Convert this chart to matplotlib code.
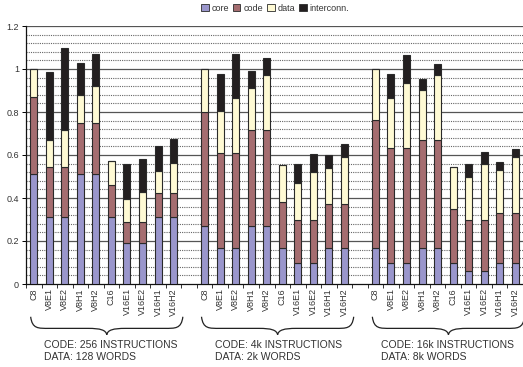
import matplotlib
matplotlib.use("Agg")
import matplotlib.pyplot as plt
from matplotlib.patches import Patch, PathPatch
from matplotlib.path import Path
from matplotlib.transforms import blended_transform_factory
import numpy as np

plt.rcParams['font.family'] = ['Liberation Sans', 'DejaVu Sans']

configs = ["C8", "V8E1", "V8E2", "V8H1", "V8H2", "C16", "V16E1", "V16E2", "V16H1", "V16H2"]
series = ["core", "code", "data", "interconn."]

# Normalised energy per component, one list per memory-size group
core_256 = [0.51, 0.31, 0.31, 0.51, 0.51, 0.313, 0.189, 0.189, 0.313, 0.313]
code_256 = [0.36, 0.235, 0.235, 0.24, 0.24, 0.147, 0.10, 0.10, 0.112, 0.112]
data_256 = [0.13, 0.125, 0.17, 0.128, 0.171, 0.11, 0.105, 0.139, 0.102, 0.136]
intc_256 = [0.0, 0.315, 0.385, 0.149, 0.149, 0.0, 0.163, 0.155, 0.115, 0.113]

core_4k = [0.27, 0.166, 0.166, 0.27, 0.27, 0.166, 0.096, 0.096, 0.166, 0.166]
code_4k = [0.53, 0.442, 0.442, 0.446, 0.446, 0.215, 0.204, 0.204, 0.206, 0.206]
data_4k = [0.20, 0.197, 0.256, 0.194, 0.254, 0.171, 0.168, 0.221, 0.168, 0.218]
intc_4k = [0.0, 0.17, 0.206, 0.082, 0.083, 0.0, 0.089, 0.085, 0.06, 0.061]

core_16k = [0.166, 0.10, 0.10, 0.166, 0.166, 0.10, 0.062, 0.062, 0.10, 0.10]
code_16k = [0.597, 0.531, 0.531, 0.504, 0.504, 0.247, 0.238, 0.238, 0.232, 0.232]
data_16k = [0.237, 0.233, 0.302, 0.231, 0.304, 0.199, 0.199, 0.26, 0.198, 0.257]
intc_16k = [0.0, 0.111, 0.131, 0.051, 0.049, 0.0, 0.058, 0.052, 0.039, 0.039]

group_notes = ["CODE: 256 INSTRUCTIONS\nDATA: 128 WORDS",
               "CODE: 4k INSTRUCTIONS\nDATA: 2k WORDS",
               "CODE: 16k INSTRUCTIONS\nDATA: 8k WORDS"]

groups = [
    [core_256, code_256, data_256, intc_256],
    [core_4k, code_4k, data_4k, intc_4k],
    [core_16k, code_16k, data_16k, intc_16k],
]

colors = ["#9a96cc", "#a56d70", "#fffad4", "#231f20"]
edge = "#2a2a2a"
txt = "#333333"

fig = plt.figure(figsize=(5.23, 3.67), dpi=100)
ax = fig.add_axes([26 / 523, 83 / 367, 1 - 26 / 523, 258 / 367])

stride = len(configs) + 1
width = 0.45
all_pos = []
all_labels = []
for gi, comps in enumerate(groups):
    pos = np.arange(len(configs)) + gi * stride
    bottom = np.zeros(len(configs))
    for si, vals in enumerate(comps):
        vals = np.asarray(vals)
        ax.bar(pos, vals, width=width, bottom=bottom, color=colors[si],
               edgecolor=edge, linewidth=0.8, zorder=3)
        bottom = bottom + vals
    all_pos.extend(pos)
    all_labels.extend(configs)

ax.set_ylim(0, 1.2)
ax.set_xlim(-0.4, 31.15)

# grid: solid every 0.2, dotted every 0.04
for y in np.arange(0.04, 1.2001, 0.04):
    if abs(y / 0.2 - round(y / 0.2)) < 1e-6:
        ax.axhline(y, color="#555555", lw=0.9, zorder=1)
    else:
        ax.axhline(y, color="#666666", lw=0.8, ls=(0, (1, 1)), zorder=1)

ax.set_yticks(np.arange(0, 1.21, 0.2))
ax.set_yticklabels(["0", "0.2", "0.4", "0.6", "0.8", "1", "1.2"])
ax.set_xticks(all_pos)
ax.set_xticklabels(all_labels, rotation=90, fontsize=6.5, color=txt)
ax.set_xticks(np.arange(-0.5, 31.6, 1.0), minor=True)
ax.tick_params(axis="x", which="major", length=0, pad=3)
ax.tick_params(axis="x", which="minor", length=3, width=0.7, color="#333333")
ax.tick_params(axis="y", which="major", length=3, width=0.7, labelsize=6.5,
               labelcolor=txt, pad=2)
for s in ["top", "right"]:
    ax.spines[s].set_visible(False)
ax.spines["left"].set_color("#111111")
ax.spines["bottom"].set_color("#111111")
ax.spines["left"].set_linewidth(0.9)
ax.spines["bottom"].set_linewidth(0.9)

# group braces and captions below the category labels
trans = blended_transform_factory(ax.transData, ax.transAxes)
y_top, y_mid, y_tip = -0.127, -0.172, -0.197
note_x = [0.68, 11.66, 22.38]
for gi in range(3):
    base = gi * stride
    xl, xr, xm = base - 0.2, base + 9.6, base + 4.7
    d = 1.2
    verts = [
        (xl, y_top),
        (xl + 0.1, y_mid - 0.002), (xl + 0.4 * d, y_mid), (xl + d, y_mid),
        (xm - d, y_mid),
        (xm - 0.35 * d, y_mid), (xm - 0.05, y_mid - 0.006), (xm, y_tip),
        (xm + 0.05, y_mid - 0.006), (xm + 0.35 * d, y_mid), (xm + d, y_mid),
        (xr - d, y_mid),
        (xr - 0.4 * d, y_mid), (xr - 0.1, y_mid - 0.002), (xr, y_top),
    ]
    codes = [Path.MOVETO,
             Path.CURVE4, Path.CURVE4, Path.CURVE4,
             Path.LINETO,
             Path.CURVE4, Path.CURVE4, Path.CURVE4,
             Path.CURVE4, Path.CURVE4, Path.CURVE4,
             Path.LINETO,
             Path.CURVE4, Path.CURVE4, Path.CURVE4]
    ax.add_patch(PathPatch(Path(verts, codes), fill=False, lw=0.9,
                           edgecolor="#222222", transform=trans, clip_on=False))
    ax.text(note_x[gi], -0.26, group_notes[gi], transform=trans, ha="left",
            va="center", fontsize=7.5, color=txt, linespacing=1.15, clip_on=False)

handles = [Patch(facecolor=c, edgecolor=edge, linewidth=0.6) for c in colors]
fig.legend(handles, series, loc="center", bbox_to_anchor=(0.526, 0.978),
           ncol=4, frameon=False, fontsize=6.5, handlelength=0.8,
           handleheight=0.8, handletextpad=0.3, columnspacing=0.5,
           labelcolor=txt)

fig.savefig("out.png", dpi=100)
